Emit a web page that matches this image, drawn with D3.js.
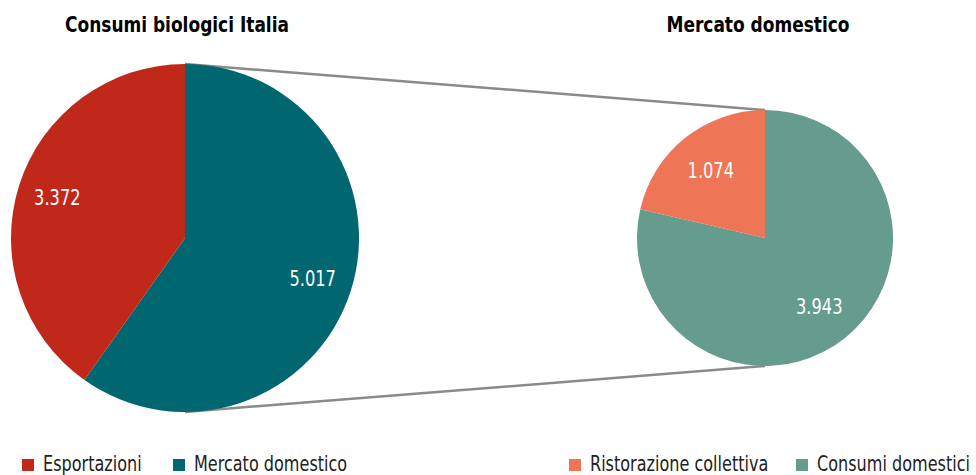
<!DOCTYPE html>
<html>
<head>
<meta charset="utf-8">
<script src="https://cdn.jsdelivr.net/npm/d3@7"></script>
<style>
  body { margin: 0; background: #fff; }
  svg { display: block; }
  text { font-family: "DejaVu Sans Condensed", "Liberation Sans Narrow", Roboto, sans-serif; }
</style>
</head>
<body>
<svg id="chart" width="976" height="475"></svg>
<script>
// main pie: total organic consumption, split in exports / domestic market
const mainCategories = ['Mercato domestico', 'Esportazioni'];
const mainValues = [5017, 3372];
const mainColors = ['#006670', '#C0291A'];

// detail pie: domestic market split
const detailCategories = ['Consumi domestici', 'Ristorazione collettiva'];
const detailValues = [3943, 1074];
const detailColors = ['#669C8E', '#EE7555'];

const titles = ['Consumi biologici Italia', 'Mercato domestico'];
const legendItems = ['Esportazioni', 'Mercato domestico', 'Ristorazione collettiva', 'Consumi domestici'];
const legendColors = ['#C0291A', '#006670', '#EE7555', '#669C8E'];

const itFormat = d3.formatLocale({ decimal: ',', thousands: '.', grouping: [3], currency: ['€', ''] }).format(',d');

const svg = d3.select('#chart');

// squeeze text horizontally, the original uses a condensed face
function condense(sel, k) {
  sel.each(function () {
    const w = this.getComputedTextLength();
    d3.select(this).attr('textLength', w * k).attr('lengthAdjust', 'spacingAndGlyphs');
  });
}

const pies = [
  { cx: 185, cy: 238, r: 174, labelR: 0.77, values: mainValues, colors: mainColors, title: titles[0], titleX: 177 },
  { cx: 765, cy: 238, r: 128, labelR: 0.68, values: detailValues, colors: detailColors, title: titles[1], titleX: 758 }
];

const pie = d3.pie().sort(null).value(d => d);

// connector lines between the pies (drawn first, behind)
const big = pies[0], small = pies[1];
svg.append('g')
  .selectAll('line')
  .data([-1, 1])
  .join('line')
  .attr('x1', big.cx).attr('y1', s => big.cy + s * big.r)
  .attr('x2', small.cx).attr('y2', s => small.cy + s * small.r)
  .attr('stroke', '#8a8a8a')
  .attr('stroke-width', 2.5);

pies.forEach(p => {
  const g = svg.append('g').attr('transform', `translate(${p.cx},${p.cy})`);
  const arcs = pie(p.values);
  const arc = d3.arc().innerRadius(0).outerRadius(p.r);
  const labelArc = d3.arc().innerRadius(p.r * p.labelR).outerRadius(p.r * p.labelR);

  g.selectAll('path')
    .data(arcs)
    .join('path')
    .attr('d', arc)
    .attr('fill', (d, i) => p.colors[i]);

  g.selectAll('text.val')
    .data(arcs)
    .join('text')
    .attr('class', 'val')
    .attr('transform', d => `translate(${labelArc.centroid(d)})`)
    .attr('text-anchor', 'middle')
    .attr('dy', '0.35em')
    .attr('fill', '#fff')
    .attr('font-size', 22)
    .text(d => itFormat(d.data))
    .call(condense, 0.82);

  svg.append('text')
    .attr('x', p.titleX)
    .attr('y', 32)
    .attr('text-anchor', 'middle')
    .attr('font-weight', 'bold')
    .attr('font-size', 21)
    .attr('fill', '#000')
    .text(p.title)
    .call(condense, 0.9);
});

// legend
const legendX = [22, 173, 569, 796];
const legend = svg.append('g')
  .selectAll('g')
  .data(legendItems)
  .join('g')
  .attr('transform', (d, i) => `translate(${legendX[i]},459)`);

legend.append('rect')
  .attr('width', 12).attr('height', 12)
  .attr('fill', (d, i) => legendColors[i]);

legend.append('text')
  .attr('x', 21)
  .attr('y', 12)
  .attr('font-size', 21)
  .attr('fill', '#222')
  .text(d => d)
  .call(condense, 0.85);
</script>
</body>
</html>
